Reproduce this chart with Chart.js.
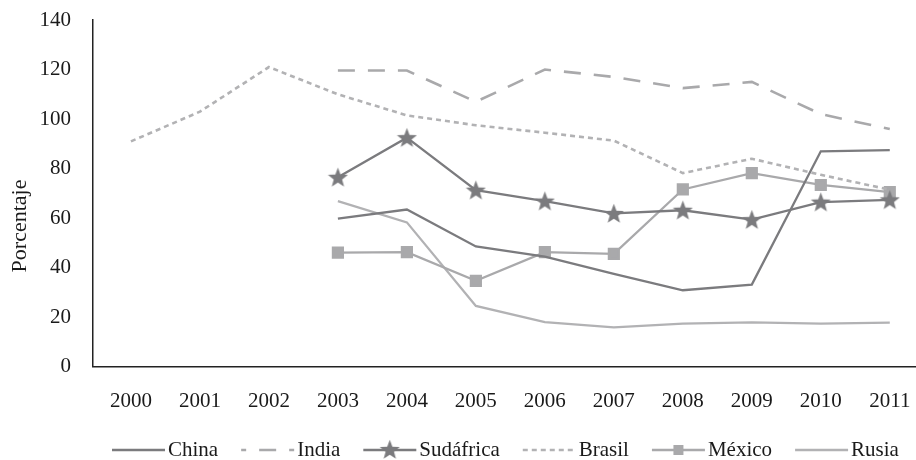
<!DOCTYPE html>
<html>
<head>
<meta charset="utf-8">
<script src="https://cdn.jsdelivr.net/npm/chart.js@4/dist/chart.umd.min.js"></script>
<style>
    html, body { margin: 0; padding: 0; background: #fff; }
    #wrap { width: 916px; height: 460px; }
</style>
</head>
<body>
<div id="wrap"><canvas id="myChart"></canvas></div>
<script>
const years = [2000, 2001, 2002, 2003, 2004, 2005, 2006, 2007, 2008, 2009, 2010, 2011];
const china = [null, null, null, 59.8, 63.5, 48.6, 44.5, 37.5, 30.9, 33.2, 87.0, 87.5];
const india = [null, null, null, 119.6, 119.6, 107.0, 120.0, 117.0, 112.5, 115.0, 102.0, 96.0];
const sudafrica = [null, null, null, 76.5, 92.5, 71.3, 66.9, 61.9, 63.2, 59.4, 66.5, 67.4];
const brasil = [91.0, 103.0, 121.0, 110.0, 101.5, 97.5, 94.5, 91.3, 78.2, 84.0, 77.5, 71.5];
const mexico = [null, null, null, 46.1, 46.3, 34.7, 46.3, 45.6, 71.6, 78.2, 73.4, 70.5];
const rusia = [null, null, null, 66.9, 58.3, 24.6, 18.0, 15.9, 17.4, 17.9, 17.4, 17.8];
const yTicks = [0, 20, 40, 60, 80, 100, 120, 140];

const FONT = "'Liberation Serif', 'DejaVu Serif', serif";
const darkGray = '#7b7b7e';
const lightGray = '#a9a9ab';
const paleGray = '#b2b2b4';

// filled five point star used as marker for Sudáfrica
function makeStar(size, color) {
    const c = document.createElement('canvas');
    c.width = size;
    c.height = size;
    const g = c.getContext('2d');
    const cx = size / 2, cy = size / 2 + 0.8;
    const outer = size / 2, inner = size / 2 * 0.42;
    g.beginPath();
    for (let i = 0; i < 10; i++) {
        const r = i % 2 === 0 ? outer : inner;
        const a = -Math.PI / 2 + i * Math.PI / 5;
        g.lineTo(cx + r * Math.cos(a), cy + r * Math.sin(a));
    }
    g.closePath();
    g.fillStyle = color;
    g.fill();
    return c;
}
const starImg = makeStar(21, darkGray);

function series(label, values, color, opts) {
    return Object.assign({
        label: label,
        data: values.map((v, i) => ({ x: years[i], y: v })),
        borderColor: color,
        backgroundColor: color,
        borderWidth: 2.3,
        pointRadius: 0,
        fill: false,
        tension: 0
    }, opts || {});
}

const datasets = [
    series('China', china, darkGray),
    series('India', india, lightGray, { borderDash: [17, 13], borderWidth: 2.6 }),
    series('Sudáfrica', sudafrica, darkGray, { pointStyle: starImg, pointRadius: 10 }),
    series('Brasil', brasil, paleGray, { borderDash: [5, 4], borderWidth: 2.6 }),
    series('México', mexico, lightGray, { pointStyle: 'rect', pointRadius: 7 }),
    series('Rusia', rusia, paleGray)
];

// legend under the axis (line sample + name) and the y axis title
const extras = {
    id: 'extras',
    afterDraw(chart) {
        const ctx = chart.ctx;
        const y = 450;
        const sample = 53;
        let x = 112;
        ctx.save();
        ctx.font = '21px ' + FONT;
        ctx.textBaseline = 'middle';
        chart.data.datasets.forEach(ds => {
            ctx.beginPath();
            ctx.setLineDash(ds.borderDash || []);
            ctx.lineDashOffset = ds.label === 'India' ? 12 : 0;
            ctx.strokeStyle = ds.borderColor;
            ctx.lineWidth = ds.borderWidth;
            ctx.moveTo(x, y);
            ctx.lineTo(x + sample, y);
            ctx.stroke();
            ctx.setLineDash([]);
            const mx = x + sample / 2;
            if (ds.pointStyle === 'rect') {
                ctx.fillStyle = ds.borderColor;
                ctx.fillRect(mx - 5, y - 5, 10, 10);
            } else if (ds.pointStyle) {
                ctx.drawImage(ds.pointStyle, mx - 10.5, y - 11);
            }
            ctx.fillStyle = '#1a1a1a';
            const tx = x + sample + 3;
            ctx.fillText(ds.label, tx, y);
            x = tx + ctx.measureText(ds.label).width + 23;
        });

        // axis title sits a bit below the middle of the axis, as in the original
        ctx.font = '22px ' + FONT;
        ctx.textAlign = 'center';
        ctx.translate(20, 226);
        ctx.rotate(-Math.PI / 2);
        ctx.fillText('Porcentaje', 0, 0);
        ctx.restore();
    }
};

new Chart(document.getElementById('myChart'), {
    type: 'line',
    data: { datasets: datasets },
    plugins: [extras],
    options: {
        responsive: true,
        maintainAspectRatio: false,
        animation: false,
        layout: { autoPadding: false, padding: { top: 20, right: 0, left: 8, bottom: 24 } },
        plugins: {
            legend: { display: false },
            tooltip: { enabled: false },
            title: { display: false }
        },
        scales: {
            x: {
                type: 'linear',
                min: 1999.45,
                max: 2011.38,
                grid: { display: false, drawTicks: false },
                border: { display: true, color: '#222', width: 1.5 },
                afterBuildTicks: scale => { scale.ticks = years.map(v => ({ value: v })); },
                afterFit: scale => { scale.paddingLeft = 0; scale.paddingRight = 0; },
                ticks: {
                    autoSkip: false,
                    maxRotation: 0,
                    padding: 22,
                    color: '#1a1a1a',
                    font: { family: FONT, size: 21 },
                    callback: v => String(v)
                }
            },
            y: {
                min: 0,
                max: 140,
                grid: { display: false, drawTicks: false },
                border: { display: true, color: '#222', width: 1.5 },
                afterBuildTicks: scale => { scale.ticks = yTicks.map(v => ({ value: v })); },
                afterFit: scale => {
                    scale.width = 85;
                    scale.paddingTop = 0;
                    scale.paddingBottom = 0;
                },
                ticks: {
                    padding: 22,
                    color: '#1a1a1a',
                    font: { family: FONT, size: 21 }
                }
            }
        }
    }
});
</script>
</body>
</html>
